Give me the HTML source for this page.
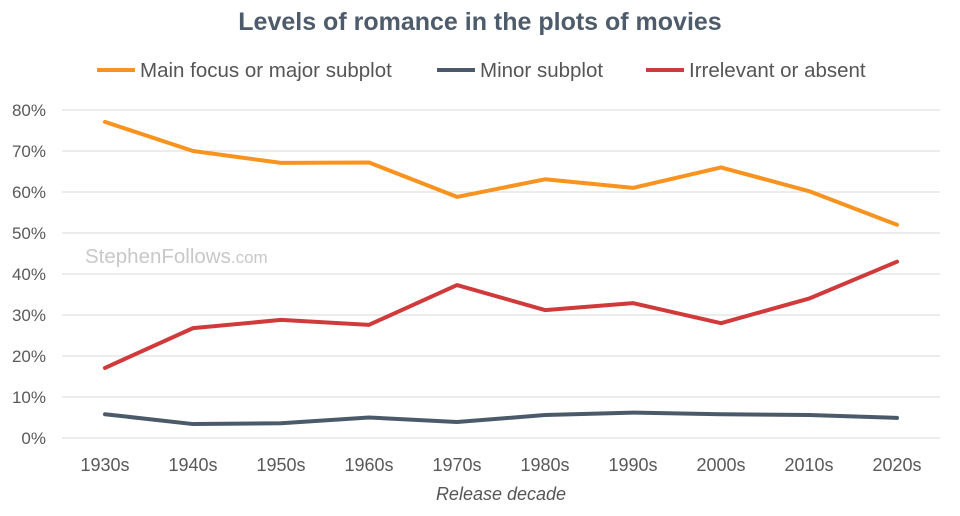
<!DOCTYPE html>
<html><head><meta charset="utf-8"><style>
body{margin:0;background:#fff;font-family:"Liberation Sans",sans-serif;}
svg text{font-family:"Liberation Sans",sans-serif;}
</style></head><body>
<svg id="chart" width="960" height="511" viewBox="0 0 960 511" xmlns="http://www.w3.org/2000/svg">
<text x="480" y="30" text-anchor="middle" font-size="25" font-weight="bold" fill="#4d5b6b">Levels of romance in the plots of movies</text>
<g>
<g><line x1="97" y1="70" x2="135" y2="70" stroke="#f7931e" stroke-width="4"/><text x="140" y="77" font-size="20.5" fill="#555">Main focus or major subplot</text></g>
<g><line x1="437" y1="70" x2="475" y2="70" stroke="#4a5a6a" stroke-width="4"/><text x="480" y="77" font-size="20.5" fill="#555">Minor subplot</text></g>
<g><line x1="646" y1="70" x2="684" y2="70" stroke="#d03a3a" stroke-width="4"/><text x="689" y="77" font-size="20.5" fill="#555">Irrelevant or absent</text></g>
</g>
<text x="85" y="263" font-size="20.5" fill="#c8c8c8">StephenFollows<tspan font-size="17">.com</tspan></text>
<g id="grid"></g><g id="series"></g><g id="xlabels"></g>
<text x="501" y="500" text-anchor="middle" font-size="18" font-style="italic" fill="#555">Release decade</text>
</svg>
<script>
const categories=["1930s","1940s","1950s","1960s","1970s","1980s","1990s","2000s","2010s","2020s"];
const mainFocus=[77.1,70,67.1,67.2,58.8,63.1,61,66,60.2,52];
const minorSubplot=[5.8,3.4,3.6,5,3.9,5.6,6.2,5.8,5.6,4.9];
const irrelevant=[17.1,26.8,28.8,27.6,37.3,31.2,32.9,28,34,43];
const yTicks=[0,10,20,30,40,50,60,70,80];
const NS="http://www.w3.org/2000/svg";
const x0=105,x1=897,yBase=438,yTop=110,yMax=80;
const xs=i=>x0+i*(x1-x0)/(categories.length-1);
const ys=v=>yBase-v*(yBase-yTop)/yMax;
const grid=document.getElementById('grid');
yTicks.forEach(t=>{
 const l=document.createElementNS(NS,'line');
 l.setAttribute('x1',62);l.setAttribute('x2',940);l.setAttribute('y1',ys(t));l.setAttribute('y2',ys(t));
 l.setAttribute('stroke','#d9d9d9');l.setAttribute('stroke-width','1');
 
 
 grid.appendChild(l);
 const tx=document.createElementNS(NS,'text');
 tx.setAttribute('x',46);tx.setAttribute('y',ys(t)+6);tx.setAttribute('text-anchor','end');
 tx.setAttribute('font-size','17');tx.setAttribute('fill','#595959');tx.textContent=t+'%';
 
 
 grid.appendChild(tx);
});
const xl=document.getElementById('xlabels');
categories.forEach((c,i)=>{
 const tx=document.createElementNS(NS,'text');
 tx.setAttribute('x',xs(i));tx.setAttribute('y',471);tx.setAttribute('text-anchor','middle');
 tx.setAttribute('font-size','18');tx.setAttribute('fill','#595959');tx.textContent=c;
 
 
 xl.appendChild(tx);
});
const sg=document.getElementById('series');
[[mainFocus,'#f7931e','line-main-focus'],[minorSubplot,'#4a5a6a','line-minor-subplot'],[irrelevant,'#d03a3a','line-irrelevant']].forEach(([d,c,n])=>{
 const p=document.createElementNS(NS,'polyline');
 p.setAttribute('points',d.map((v,i)=>xs(i)+','+ys(v)).join(' '));
 p.setAttribute('fill','none');p.setAttribute('stroke',c);p.setAttribute('stroke-width','4');
 p.setAttribute('stroke-linejoin','round');p.setAttribute('stroke-linecap','round');
 
 
 sg.appendChild(p);
});
</script>
</body></html>
